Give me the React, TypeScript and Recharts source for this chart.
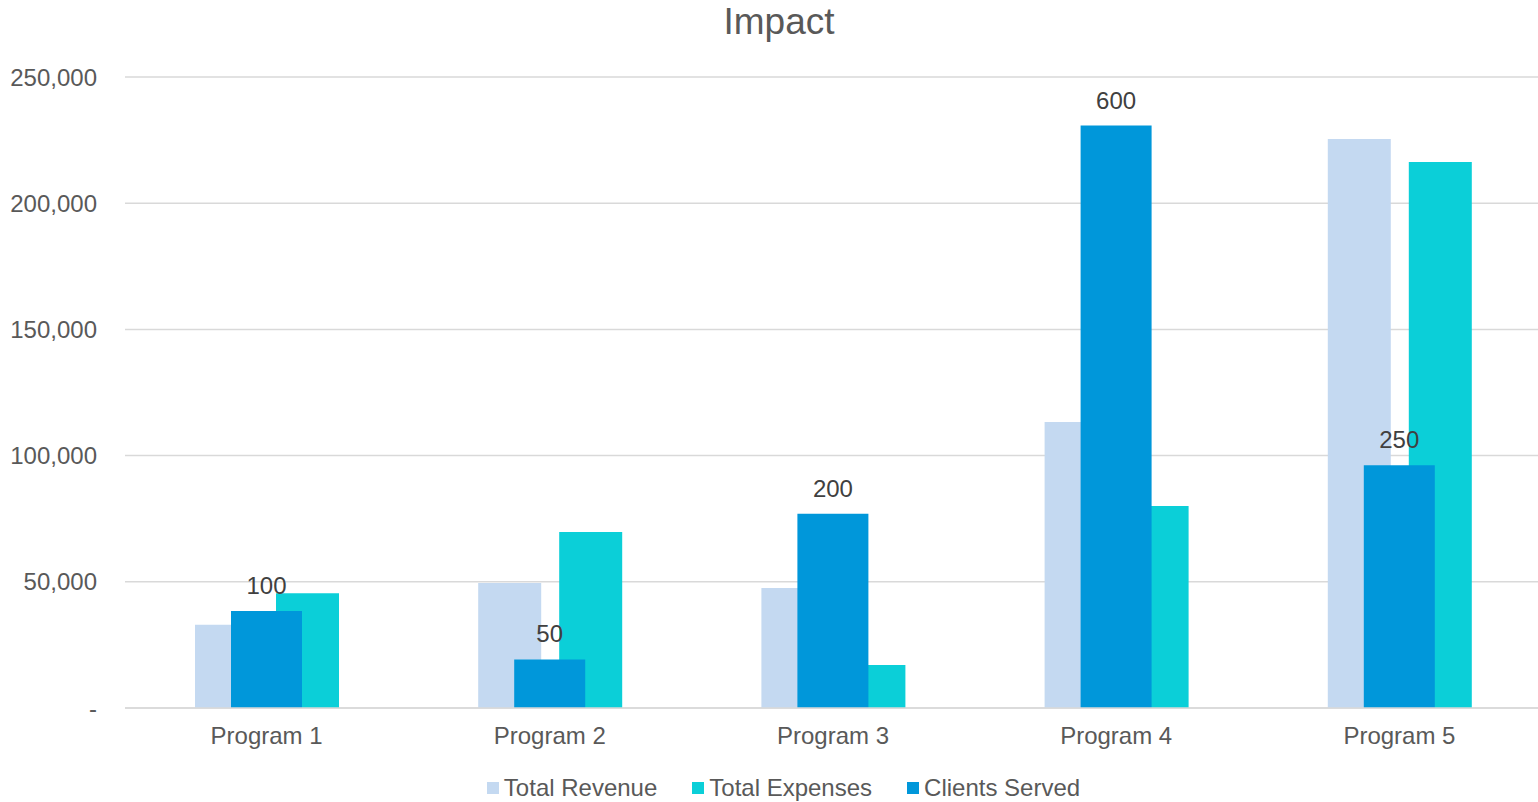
import React from 'react';
import {
  ComposedChart,
  Bar,
  XAxis,
  YAxis,
  CartesianGrid,
  LabelList,
} from 'recharts';

// Program categories and their series values
const programs = ['Program 1', 'Program 2', 'Program 3', 'Program 4', 'Program 5'];
const totalRevenue = [33000, 49500, 47500, 113300, 225400];
const totalExpenses = [45500, 69700, 17000, 80000, 216300];
const clientsServed = [100, 50, 200, 600, 250];
const revenueTicks = [0, 50000, 100000, 150000, 200000, 250000];

const data = programs.map((name, i) => ({
  name,
  revenue: totalRevenue[i],
  expenses: totalExpenses[i],
  clients: clientsServed[i],
}));

const FONT = '"Liberation Sans", Arial, sans-serif';
const TEXT = '#595959';
const GRID = '#d9d9d9';
const COLORS = {
  revenue: '#c4d9f1',
  expenses: '#0bcfd8',
  clients: '#0097da',
};

const legendItems = [
  { label: 'Total Revenue', color: COLORS.revenue },
  { label: 'Total Expenses', color: COLORS.expenses },
  { label: 'Clients Served', color: COLORS.clients },
];

const formatMoney = (v: number) => (v === 0 ? '-' : v.toLocaleString('en-US'));

export default function App() {
  return (
    <div
      style={{
        position: 'absolute',
        left: 0,
        top: 0,
        width: 1538,
        height: 802,
        background: '#fff',
        fontFamily: FONT,
        overflow: 'hidden',
      }}
    >
      <div
        style={{
          position: 'absolute',
          left: 0,
          top: 1,
          width: 1558,
          textAlign: 'center',
          fontSize: 37,
          color: TEXT,
        }}
      >
        Impact
      </div>
      <ComposedChart
        width={1538}
        height={802}
        data={data}
        margin={{ top: 77, right: -3, bottom: 54, left: 0 }}
        barGap={18}
        style={{ overflow: 'hidden' }}
      >
        <CartesianGrid vertical={false} stroke={GRID} strokeWidth={1.5} />
        <XAxis
          dataKey="name"
          axisLine={{ stroke: GRID, strokeWidth: 1.5 }}
          tickLine={false}
          tickSize={0}
          tickMargin={19}
          tick={{ fill: TEXT, fontSize: 24, fontFamily: FONT }}
          height={40}
        />
        <XAxis dataKey="name" xAxisId="clients" hide />
        <YAxis
          width={125}
          domain={[0, 250000]}
          ticks={revenueTicks}
          tickFormatter={formatMoney}
          axisLine={false}
          tickLine={false}
          tickSize={0}
          tickMargin={28}
          tick={{ fill: TEXT, fontSize: 24, fontFamily: FONT }}
        />
        <YAxis yAxisId="clientsAxis" orientation="right" domain={[0, 650]} hide />
        <Bar dataKey="revenue" fill={COLORS.revenue} barSize={63} isAnimationActive={false} />
        <Bar dataKey="expenses" fill={COLORS.expenses} barSize={63} isAnimationActive={false} />
        <Bar
          dataKey="clients"
          xAxisId="clients"
          yAxisId="clientsAxis"
          fill={COLORS.clients}
          barSize={71}
          isAnimationActive={false}
        >
          <LabelList
            dataKey="clients"
            position="top"
            offset={17}
            fill="#404040"
            fontSize={24}
            fontFamily={FONT}
          />
        </Bar>
      </ComposedChart>
      <div
        style={{
          position: 'absolute',
          left: 0,
          top: 774,
          width: 1567,
          display: 'flex',
          justifyContent: 'center',
          alignItems: 'center',
          gap: 35,
          fontSize: 24,
          color: TEXT,
        }}
      >
        {legendItems.map((item) => (
          <div key={item.label} style={{ display: 'flex', alignItems: 'center', gap: 5 }}>
            <span style={{ display: 'inline-block', width: 12, height: 12, background: item.color }} />
            <span>{item.label}</span>
          </div>
        ))}
      </div>
    </div>
  );
}
